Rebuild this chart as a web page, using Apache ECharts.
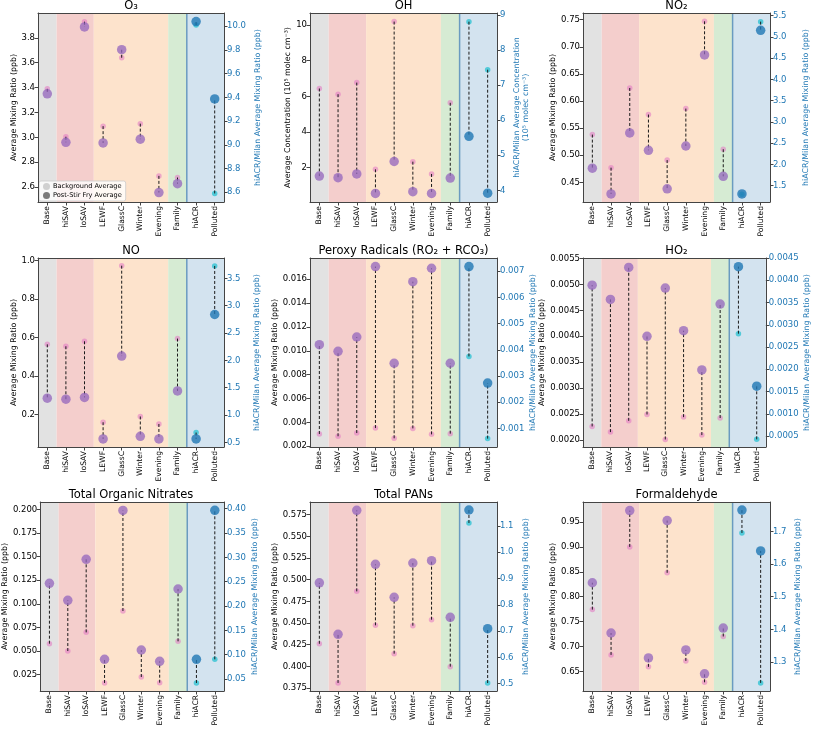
<!DOCTYPE html>
<html><head><meta charset="utf-8">
<script src="https://cdn.jsdelivr.net/npm/echarts@6/dist/echarts.min.js"></script>
<style>html,body{margin:0;padding:0;background:#fff}#c{width:813px;height:729px}</style>
</head><body><div id="c"></div>
<script>
// ---------------- data ----------------
const categories = ['Base','hiSAV','loSAV','LEWF','GlassC','Winter','Evening','Family','hiACR','Polluted'];
// first 8 values on left axis, last 2 (hiACR, Polluted) on right axis
const o3Background   = [3.39, 3.005, 3.93, 3.09, 3.64, 3.11, 2.69, 2.677, 10.01, 8.59];
const o3PostStirFry  = [3.35, 2.96, 3.888, 2.955, 3.705, 2.985, 2.556, 2.627, 10.04, 9.387];
const ohBackground   = [6.44, 6.12, 6.77, 1.91, 10.19, 2.34, 1.65, 5.64, 8.81, 7.44];
const ohPostStirFry  = [1.53, 1.44, 1.65, 0.56, 2.35, 0.66, 0.56, 1.42, 5.54, 3.92];
const no2Background  = [0.538, 0.477, 0.624, 0.575, 0.491, 0.586, 0.747, 0.511, 1.30, 5.36];
const no2PostStirFry = [0.476, 0.4285, 0.541, 0.509, 0.438, 0.517, 0.685, 0.461, 1.305, 5.155];
const noBackground   = [0.565, 0.555, 0.581, 0.16, 0.974, 0.19, 0.151, 0.595, 0.678, 3.727];
const noPostStirFry  = [0.285, 0.28, 0.289, 0.073, 0.504, 0.087, 0.073, 0.323, 0.561, 2.839];
const roxBackground  = [0.00303, 0.00284, 0.00311, 0.00353, 0.00267, 0.0035, 0.0030, 0.00306, 0.00375, 0.00061];
const roxPostStirFry = [0.01052, 0.00996, 0.01116, 0.01706, 0.00896, 0.0158, 0.01692, 0.00896, 0.00718, 0.00273];
const ho2Background  = [0.002257, 0.002148, 0.002366, 0.002488, 0.002006, 0.002437, 0.00209, 0.00242, 0.0028, 0.000425];
const ho2PostStirFry = [0.004986, 0.00471, 0.005327, 0.003997, 0.00493, 0.004106, 0.003349, 0.00462, 0.004305, 0.00162];
const tonBackground  = [0.0578, 0.050, 0.0698, 0.0162, 0.0924, 0.0225, 0.0165, 0.0603, 0.0418, 0.0904];
const tonPostStirFry = [0.1217, 0.1037, 0.1471, 0.0412, 0.1989, 0.0511, 0.0391, 0.1157, 0.0904, 0.3966];
const panBackground  = [0.426, 0.3808, 0.4865, 0.4473, 0.4146, 0.4469, 0.4538, 0.3996, 1.1114, 0.5025];
const panPostStirFry = [0.4963, 0.4369, 0.58, 0.5177, 0.4796, 0.5192, 0.5219, 0.4565, 1.1609, 0.7093];
const hchoBackground = [0.774, 0.683, 0.900, 0.659, 0.848, 0.671, 0.628, 0.720, 1.695, 1.236];
const hchoPostStirFry= [0.828, 0.727, 0.973, 0.677, 0.953, 0.693, 0.645, 0.737, 1.765, 1.640];

// axis limits
const o3LeftRange = [2.48, 4.0],      o3RightRange = [8.518, 10.112];
const ohLeftRange = [0.08, 10.67],    ohRightRange = [3.668, 9.057];
const no2LeftRange = [0.4137, 0.7623],no2RightRange = [1.116, 5.563];
const noLeftRange = [0.0313, 1.014],  noRightRange = [0.414, 3.873];
const roxLeftRange = [0.00194, 0.01778], roxRightRange = [0.00029, 0.007507];
const ho2LeftRange = [0.00186, 0.00551], ho2RightRange = [0.000253, 0.0045];
const tonLeftRange = [0.0077, 0.2078],  tonRightRange = [0.0253, 0.4137];
const panLeftRange = [0.3715, 0.5896],  panRightRange = [0.4721, 1.1913];
const hchoLeftRange = [0.6105, 0.9902], hchoRightRange = [1.2112, 1.7898];

// tick labels
const o3LeftTicks  = ['2.6','2.8','3.0','3.2','3.4','3.6','3.8'];
const o3RightTicks = ['8.6','8.8','9.0','9.2','9.4','9.6','9.8','10.0'];
const ohLeftTicks  = ['2','4','6','8','10'];
const ohRightTicks = ['4','5','6','7','8','9'];
const no2LeftTicks = ['0.45','0.50','0.55','0.60','0.65','0.70','0.75'];
const no2RightTicks= ['1.5','2.0','2.5','3.0','3.5','4.0','4.5','5.0','5.5'];
const noLeftTicks  = ['0.2','0.4','0.6','0.8','1.0'];
const noRightTicks = ['0.5','1.0','1.5','2.0','2.5','3.0','3.5'];
const roxLeftTicks = ['0.002','0.004','0.006','0.008','0.010','0.012','0.014','0.016'];
const roxRightTicks= ['0.001','0.002','0.003','0.004','0.005','0.006','0.007'];
const ho2LeftTicks = ['0.0020','0.0025','0.0030','0.0035','0.0040','0.0045','0.0050','0.0055'];
const ho2RightTicks= ['0.0005','0.0010','0.0015','0.0020','0.0025','0.0030','0.0035','0.0040','0.0045'];
const tonLeftTicks = ['0.025','0.050','0.075','0.100','0.125','0.150','0.175','0.200'];
const tonRightTicks= ['0.05','0.10','0.15','0.20','0.25','0.30','0.35','0.40'];
const panLeftTicks = ['0.375','0.400','0.425','0.450','0.475','0.500','0.525','0.550','0.575'];
const panRightTicks= ['0.5','0.6','0.7','0.8','0.9','1.0','1.1'];
const hchoLeftTicks= ['0.65','0.70','0.75','0.80','0.85','0.90','0.95'];
const hchoRightTicks=['1.3','1.4','1.5','1.6','1.7'];

const titles = ['O₃','OH','NO₂','NO','Peroxy Radicals (RO₂ + RCO₃)','HO₂','Total Organic Nitrates','Total PANs','Formaldehyde'];
const mixName = 'Average Mixing Ratio (ppb)';
const mixNameRight = 'hiACR/Milan Average Mixing Ratio (ppb)';
const leftNames = [mixName,'Average Concentration (10⁵ molec cm⁻³)',mixName,mixName,mixName,mixName,mixName,mixName,mixName];
const rightNames = [mixNameRight,'hiACR/Milan Average Concentration\n(10⁵ molec cm⁻³)',mixNameRight,mixNameRight,mixNameRight,mixNameRight,mixNameRight,mixNameRight,mixNameRight];
// shaded groups: [first category index, last category index, colour index]
const regions = [[0,0,0],[1,2,1],[3,6,2],[7,7,3],[8,9,4]];

const panels = [
  {bg:o3Background, post:o3PostStirFry, lr:o3LeftRange, rr:o3RightRange, lt:o3LeftTicks, rt:o3RightTicks},
  {bg:ohBackground, post:ohPostStirFry, lr:ohLeftRange, rr:ohRightRange, lt:ohLeftTicks, rt:ohRightTicks},
  {bg:no2Background, post:no2PostStirFry, lr:no2LeftRange, rr:no2RightRange, lt:no2LeftTicks, rt:no2RightTicks},
  {bg:noBackground, post:noPostStirFry, lr:noLeftRange, rr:noRightRange, lt:noLeftTicks, rt:noRightTicks},
  {bg:roxBackground, post:roxPostStirFry, lr:roxLeftRange, rr:roxRightRange, lt:roxLeftTicks, rt:roxRightTicks},
  {bg:ho2Background, post:ho2PostStirFry, lr:ho2LeftRange, rr:ho2RightRange, lt:ho2LeftTicks, rt:ho2RightTicks},
  {bg:tonBackground, post:tonPostStirFry, lr:tonLeftRange, rr:tonRightRange, lt:tonLeftTicks, rt:tonRightTicks},
  {bg:panBackground, post:panPostStirFry, lr:panLeftRange, rr:panRightRange, lt:panLeftTicks, rt:panRightTicks},
  {bg:hchoBackground, post:hchoPostStirFry, lr:hchoLeftRange, rr:hchoRightRange, lt:hchoLeftTicks, rt:hchoRightTicks}
];

// ---------------- layout & style ----------------
const colLeft = [38, 310, 583], colWidth = [186, 187, 187];
const rowTop = [13, 258, 502], rowHeight = 189;
const leftGap = [19, 17, 24, 19, 30, 34, 29, 28, 24];
const rightGap = [29, 15, 31, 28, 29, 34, 26, 24, 23];
const regionColors = ['#e2e2e2', '#f4cecc', '#fde3cc', '#d6ebd3', '#d3e3ef'];
const FONT = 'DejaVu Sans';
const frameColor = '#444';
const blueText = '#1f77b4';

function renderRegion(params, api) {
  const bw = api.size([1, 0])[0];
  const cs = params.coordSys;
  const x0 = api.coord([api.value(0), 0])[0] - bw / 2;
  const x1 = api.coord([api.value(1), 0])[0] + bw / 2;
  const ci = api.value(2);
  const children = [{type:'rect', shape:{x:x0, y:cs.y, width:x1 - x0, height:cs.height}, style:{fill:regionColors[ci]}}];
  if (ci === 4) children.push({type:'line', shape:{x1:x0, y1:cs.y, x2:x0, y2:cs.y + cs.height}, style:{stroke:'#6a9bc0', lineWidth:1.5}});
  return {type:'group', children};
}
function renderStem(params, api) {
  const a = api.coord([api.value(0), api.value(1)]);
  const b = api.coord([api.value(0), api.value(2)]);
  return {type:'line', shape:{x1:a[0], y1:a[1], x2:b[0], y2:b[1]}, style:{stroke:'#1a1a1a', lineWidth:1, lineDash:[3, 2]}};
}
function fmt(ticks) {
  return v => { for (const s of ticks) if (Math.abs(Number(s) - v) < 1e-9) return s; return ''; };
}

const grid = [], xAxis = [], yAxis = [], series = [], title = [];
panels.forEach((p, i) => {
  const r = Math.floor(i / 3), c = i % 3;
  grid.push({left: colLeft[c], top: rowTop[r], width: colWidth[c], height: rowHeight});
  title.push({text: titles[i], left: colLeft[c] + colWidth[c] / 2, top: rowTop[r] - 12.5, textAlign: 'center', padding: 0,
    textStyle: {fontFamily: FONT, fontSize: 11.5, fontWeight: 'normal', color: '#000'}});
  xAxis.push({type:'category', gridIndex:i, data:categories, boundaryGap:true, z:10,
    axisLine:{show:true, lineStyle:{color:frameColor, width:1}},
    axisTick:{show:true, alignWithLabel:true, length:3.5, lineStyle:{color:frameColor}},
    axisLabel:{rotate:90, interval:0, fontSize:7.6, fontFamily:FONT, color:'#000', margin:4},
    splitLine:{show:false}});
  xAxis.push({type:'category', gridIndex:i, data:categories, position:'top', z:10,
    axisLine:{show:true, lineStyle:{color:frameColor, width:1}}, axisTick:{show:false}, axisLabel:{show:false}, splitLine:{show:false}});
  const lv = p.lt.map(Number), rv = p.rt.map(Number);
  yAxis.push({type:'value', gridIndex:i, position:'left', min:p.lr[0], max:p.lr[1], z:10,
    axisLine:{show:true, lineStyle:{color:frameColor, width:1}},
    axisTick:{show:true, length:3.5, customValues:lv, lineStyle:{color:frameColor}},
    axisLabel:{customValues:lv, formatter:fmt(p.lt), fontSize:8.5, fontFamily:FONT, color:'#000', margin:3},
    splitLine:{show:false},
    name:leftNames[i], nameLocation:'middle', nameRotate:90, nameGap:leftGap[i],
    nameTextStyle:{fontSize:7.9, fontFamily:FONT, color:'#000'}});
  yAxis.push({type:'value', gridIndex:i, position:'right', min:p.rr[0], max:p.rr[1], z:10,
    axisLine:{show:true, lineStyle:{color:frameColor, width:1}},
    axisTick:{show:true, length:3.5, customValues:rv, lineStyle:{color:frameColor}},
    axisLabel:{customValues:rv, formatter:fmt(p.rt), fontSize:8.5, fontFamily:FONT, color:blueText, margin:3},
    splitLine:{show:false},
    name:rightNames[i], nameLocation:'middle', nameRotate:90, nameGap:rightGap[i],
    nameTextStyle:{fontSize:7.9, fontFamily:FONT, color:blueText, lineHeight:9.5, align:'center'}});
  const xb = 2 * i, yl = 2 * i, yr = 2 * i + 1;
  series.push({type:'custom', xAxisIndex:xb, yAxisIndex:yl, z:0, silent:true, renderItem:renderRegion,
    encode:{x:[0, 1]}, data:regions});
  const stemL = [], stemR = [], bgL = [], bgR = [], pL = [], pR = [];
  categories.forEach((cat, k) => {
    const side = k < 8;
    (side ? stemL : stemR).push([k, p.bg[k], p.post[k]]);
    (side ? bgL : bgR).push([k, p.bg[k]]);
    (side ? pL : pR).push([k, p.post[k]]);
  });
  series.push({name:'Background Average', type:'scatter', xAxisIndex:xb, yAxisIndex:yl, z:2, symbolSize:5.5,
    itemStyle:{color:'rgba(227,119,194,0.7)'}, data:bgL});
  series.push({type:'scatter', xAxisIndex:xb, yAxisIndex:yr, z:2, symbolSize:5.5,
    itemStyle:{color:'rgba(23,190,207,0.85)'}, data:bgR});
  series.push({type:'custom', xAxisIndex:xb, yAxisIndex:yl, z:3, silent:true, renderItem:renderStem, encode:{x:0, y:[1, 2]}, data:stemL});
  series.push({type:'custom', xAxisIndex:xb, yAxisIndex:yr, z:3, silent:true, renderItem:renderStem, encode:{x:0, y:[1, 2]}, data:stemR});
  series.push({name:'Post-Stir Fry Average', type:'scatter', xAxisIndex:xb, yAxisIndex:yl, z:4, symbolSize:9.5,
    itemStyle:{color:'rgba(148,103,189,0.95)'}, data:pL});
  series.push({type:'scatter', xAxisIndex:xb, yAxisIndex:yr, z:4, symbolSize:9.5,
    itemStyle:{color:'#1f77b4'}, data:pR});
});

const chart = echarts.init(document.getElementById('c'), null, {renderer:'canvas'});
chart.setOption({
  animation:false,
  backgroundColor:'#fff',
  title, grid, xAxis, yAxis, series,
  legend:{left:39, top:181, orient:'vertical', selectedMode:false, itemWidth:7, itemHeight:7, itemGap:2,
    padding:[2,4,2,4], backgroundColor:'rgba(255,255,255,0.8)', borderColor:'#ccc', borderWidth:0.8, borderRadius:2,
    textStyle:{fontSize:6.6, fontFamily:FONT, color:'#000', padding:[0,0,0,-2]},
    data:[{name:'Background Average', icon:'circle', itemStyle:{color:'#c6c6c6'}},
          {name:'Post-Stir Fry Average', icon:'circle', itemStyle:{color:'#5a5a5a'}}]}
});
</script></body></html>
